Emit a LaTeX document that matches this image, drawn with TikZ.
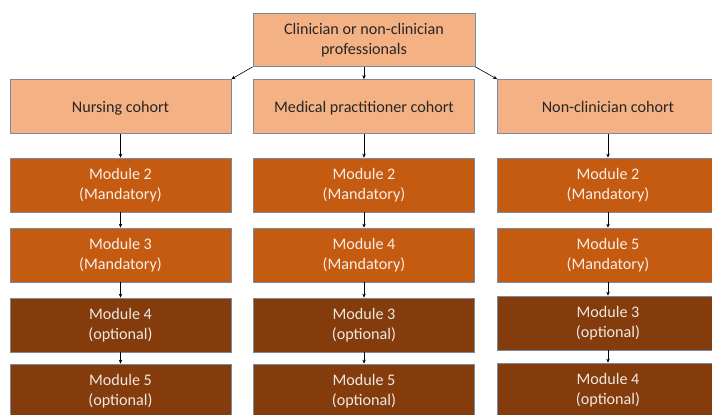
\documentclass[tikz,border=0pt]{standalone}
\usepackage{fontspec}
\setmainfont{Carlito}
\usetikzlibrary{arrows.meta}
\definecolor{peach}{HTML}{F4B183}
\definecolor{mand}{HTML}{C55A11}
\definecolor{opt}{HTML}{843C0C}
\definecolor{edge}{HTML}{7A8AA0}
\definecolor{ink}{HTML}{262626}
\tikzset{
  box/.style={draw=edge, line width=0.7pt, minimum width=221bp, minimum height=54bp, inner sep=0pt, align=center, font=\fontsize{16.2}{19.5}\selectfont},
  cohort/.style={box, fill=peach, text=ink},
  oneline/.style={text height=13.5bp, text depth=1.5bp},
  mandbox/.style={box, fill=mand, text=white!90!mand},
  optbox/.style={box, fill=opt, text=white!88!opt},
  arr/.style={-{Stealth[length=4bp,width=3.5bp]}, line width=0.6pt, black}
}
\begin{document}
\begin{tikzpicture}[x=1bp,y=-1bp]
\useasboundingbox (0,0) rectangle (712,414);
\clip (0,0) rectangle (712,414);
\node[cohort, minimum width=222bp, minimum height=53bp] (top) at (364,40) {Clinician or non-clinician\\professionals};
% cohorts
\node[cohort, oneline] (c1) at (120.5,106.5) {Nursing cohort};
\node[cohort, oneline] (c2) at (364,106.5) {Medical practitioner cohort};
\node[cohort, oneline] (c3) at (608,106.5) {Non-clinician cohort};
% row 1
\node[mandbox] (a1) at (120.5,185) {Module 2\\(Mandatory)};
\node[mandbox] (b1) at (364,185) {Module 2\\(Mandatory)};
\node[mandbox] (d1) at (608,185) {Module 2\\(Mandatory)};
% row 2
\node[mandbox] (a2) at (120.5,255) {Module 3\\(Mandatory)};
\node[mandbox] (b2) at (364,255) {Module 4\\(Mandatory)};
\node[mandbox] (d2) at (608,255) {Module 5\\(Mandatory)};
% row 3
\node[optbox] (a3) at (120.5,325) {Module 4\\(optional)};
\node[optbox] (b3) at (364,325) {Module 3\\(optional)};
\node[optbox] (d3) at (608,323) {Module 3\\(optional)};
% row 4
\node[optbox] (a4) at (120.5,391) {Module 5\\(optional)};
\node[optbox] (b4) at (364,391) {Module 5\\(optional)};
\node[optbox] (d4) at (608,390) {Module 4\\(optional)};
% connectors
\draw[arr] (top.south west) -- (c1.north east);
\draw[arr] (top.south) -- (c2.north);
\draw[arr] (top.south east) -- (c3.north west);
\foreach \p/\q in {c1/a1,a1/a2,a2/a3,a3/a4,c2/b1,b1/b2,b2/b3,b3/b4,c3/d1,d1/d2,d2/d3,d3/d4}
  \draw[arr] (\p.south) -- (\q.north);
\end{tikzpicture}
\end{document}
